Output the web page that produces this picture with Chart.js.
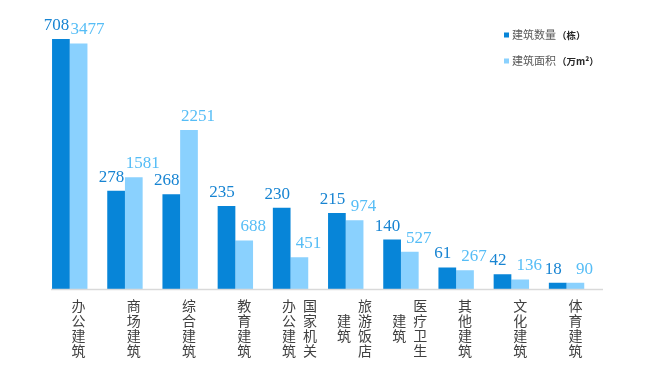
<!DOCTYPE html>
<html>
<head>
<meta charset="utf-8">
<script src="https://cdn.jsdelivr.net/npm/chart.js@4/dist/chart.umd.min.js"></script>
<style>
  html, body { margin: 0; padding: 0; background: #fff; }
  #wrap { width: 666px; height: 386px; position: relative; }
</style>
</head>
<body>
<div id="wrap"><canvas id="buildChart"></canvas></div>
<script>
// categories and series
const categories = ['办公建筑', '商场建筑', '综合建筑', '教育建筑', '国家机关办公建筑', '旅游饭店建筑', '医疗卫生建筑', '其他建筑', '文化建筑', '体育建筑'];
const buildingCount = [708, 278, 268, 235, 230, 215, 140, 61, 42, 18];   // 栋
const buildingArea = [3477, 1581, 2251, 688, 451, 974, 527, 267, 136, 90]; // 万㎡
const seriesNames = ['建筑数量', '建筑面积'];
const seriesUnits = ['（栋）', '（万m²）'];

const DARK = '#0785d8';
const LIGHT = '#8ad1fe';
const DARK_TXT = '#1784d2';
const LIGHT_TXT = '#56bdf6';

// value labels above bars
const valueLabels = {
    id: 'valueLabels',
    afterDatasetsDraw(chart) {
        const ctx = chart.ctx;
        ctx.save();
        ctx.font = '17px "Liberation Serif", "DejaVu Serif", serif';
        ctx.textAlign = 'center';
        ctx.textBaseline = 'alphabetic';
        [[0, DARK_TXT, -4.5], [1, LIGHT_TXT, 9]].forEach(([di, color, dx]) => {
            const meta = chart.getDatasetMeta(di);
            ctx.fillStyle = color;
            meta.data.forEach((bar, i) => {
                ctx.fillText(String(chart.data.datasets[di].data[i]), bar.x + dx, bar.y - 9);
            });
        });
        ctx.restore();
    }
};

// vertical category labels + baseline + legend
const decor = {
    id: 'decor',
    afterDraw(chart) {
        const ctx = chart.ctx;
        const area = chart.chartArea;
        const xs = chart.scales.x;
        ctx.save();

        // baseline
        ctx.strokeStyle = '#d9d9d9';
        ctx.lineWidth = 1.5;
        ctx.beginPath();
        ctx.moveTo(area.left, area.bottom + 0.5);
        ctx.lineTo(area.right, area.bottom + 0.5);
        ctx.stroke();

        // category labels written top-to-bottom, columns right-to-left
        ctx.font = '14px "Noto Sans CJK SC", sans-serif';
        ctx.fillStyle = '#404040';
        ctx.textAlign = 'center';
        ctx.textBaseline = 'middle';
        const pitch = 15, colGap = 21;
        const midY = area.bottom + 39;
        categories.forEach((name, i) => {
            const cols = [];
            for (let k = 0; k < name.length; k += 4) cols.push(name.slice(k, k + 4));
            const cx = xs.getPixelForValue(i);
            cols.forEach((col, c) => {
                const x = cx + (cols.length - 1) / 2 * colGap - c * colGap;
                const y0 = midY - (col.length - 1) / 2 * pitch;
                [...col].forEach((ch, j) => ctx.fillText(ch, x, y0 + j * pitch));
            });
        });

        // legend
        const colors = [DARK, LIGHT];
        seriesNames.forEach((name, i) => {
            const y = 35 + i * 26;
            ctx.fillStyle = colors[i];
            ctx.fillRect(504, y - 2.5, 5, 5);
            ctx.textAlign = 'left';
            ctx.fillStyle = '#595959';
            ctx.font = '11px "Noto Sans CJK SC", sans-serif';
            ctx.fillText(name, 512, y);
            ctx.fillStyle = '#262626';
            ctx.font = 'bold 9.5px "Noto Sans CJK SC", sans-serif';
            ctx.fillText(seriesUnits[i], 557, y);
        });
        ctx.restore();
    }
};

new Chart(document.getElementById('buildChart'), {
    type: 'bar',
    data: {
        labels: categories,
        datasets: [
            { label: seriesNames[0], data: buildingCount, backgroundColor: DARK, yAxisID: 'y' },
            { label: seriesNames[1], data: buildingArea, backgroundColor: LIGHT, yAxisID: 'y2' },
            // empty third slot, keeps the pair on the left of each category
            { label: '', data: [], backgroundColor: 'rgba(0,0,0,0)', yAxisID: 'y' }
        ]
    },
    options: {
        responsive: true,
        maintainAspectRatio: false,
        animation: false,
        layout: { padding: { left: 51, right: 63, top: 6.5, bottom: 97 } },
        datasets: { bar: { barPercentage: 1, categoryPercentage: 0.962 } },
        plugins: { legend: { display: false }, tooltip: { enabled: false } },
        scales: {
            x: { display: false },
            y: { display: false, min: 0, max: 800 },
            y2: { display: false, min: 0, max: 4000 }
        }
    },
    plugins: [valueLabels, decor]
});
</script>
</body>
</html>
